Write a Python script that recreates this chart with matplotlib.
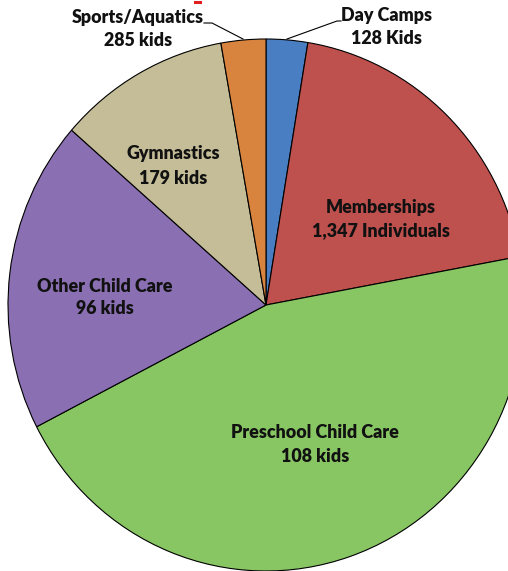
import matplotlib
matplotlib.use('Agg')
import matplotlib.pyplot as plt
from matplotlib.lines import Line2D

# 数据（扇区大小按图中角度估计）
CATEGORIES = ['Day Camps', 'Memberships', 'Preschool Child Care',
              'Other Child Care', 'Gymnastics', 'Sports/Aquatics']
COUNTS = ['128 Kids', '1,347 Individuals', '108 kids', '96 kids', '179 kids', '285 kids']
SHARES = [2.6, 19.5, 45.4, 19.0, 10.8, 2.8]
COLORS = ['#4A7EC2', '#BE504E', '#88C563', '#8A70B2', '#C4BD97', '#D8843F']

W, H = 508, 571
CX, CY, RX, RY = 266, 305, 258, 266


def px(x, y):
    # 像素坐标 -> 数据坐标
    return (x - CX) / RX, (CY - y) / RY


def plot_pie():
    plt.rcParams['font.family'] = ['Lato', 'DejaVu Sans']
    fig = plt.figure(figsize=(W / 100, H / 100), dpi=100)
    ax = fig.add_axes([0, 0, 1, 1])
    ax.pie(SHARES, colors=COLORS, startangle=90, counterclock=False, radius=1,
           wedgeprops=dict(edgecolor='black', linewidth=0.8))
    ax.set_aspect('auto')
    ax.set_xlim(px(0, 0)[0], px(W, 0)[0])
    ax.set_ylim(px(0, H)[1], px(0, 0)[1])
    ax.axis('off')

    # 标签：每行中心 (x, 第一行 y, 第二行 y)
    label_pos = {
        'Day Camps': (386, 15, 39),
        'Memberships': (381, 208, 231),
        'Preschool Child Care': (315, 433, 457),
        'Other Child Care': (105, 286, 309),
        'Gymnastics': (173, 154, 179),
        'Sports/Aquatics': (138, 17, 41),
    }
    for name, cnt in zip(CATEGORIES, COUNTS):
        x, y1, y2 = label_pos[name]
        for txt, yy in [(name, y1), (cnt, y2)]:
            ax.text(*px(x, yy), txt, ha='center', va='center', fontsize=12.9,
                    fontweight='heavy', color='#111111')

    # 引线
    for pts in [[(204, 23), (212, 23), (243, 39)], [(287, 39), (337, 21), (341, 21)]]:
        xs, ys = zip(*[px(a, b) for a, b in pts])
        ax.plot(xs, ys, color='black', linewidth=0.8)

    # 顶部被裁掉的红色标题残留
    fig.add_artist(Line2D([195 / W, 200 / W], [1 - 1.5 / H, 1 - 1.5 / H], color='#E02020', linewidth=2.2))

    fig.savefig('out.png', dpi=100)


if __name__ == '__main__':
    plot_pie()
